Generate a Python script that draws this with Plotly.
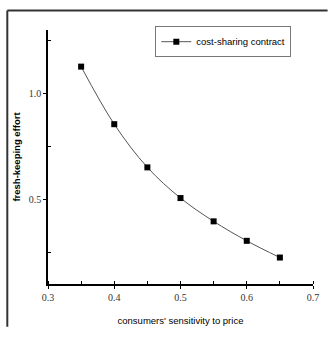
import plotly.graph_objects as go

sensitivity = [0.35, 0.40, 0.45, 0.50, 0.55, 0.60, 0.65]
effort = [1.127, 0.855, 0.651, 0.506, 0.396, 0.304, 0.225]
series_name = "cost-sharing contract"
x_ticks = [0.3, 0.4, 0.5, 0.6, 0.7]
y_ticks = [0.5, 1.0]

sans = "Liberation Sans, Arial, sans-serif"

fig = go.Figure()
fig.add_trace(go.Scatter(
    x=sensitivity, y=effort, mode="lines+markers", name=series_name,
    line=dict(color="#555555", width=1, shape="spline"),
    marker=dict(symbol="square", size=6, color="black"),
))

tickfont = dict(family="Liberation Serif, Times New Roman, serif", size=10, color="#333333")
fig.update_layout(
    width=331, height=337,
    margin=dict(l=48, r=16, t=30, b=45),
    paper_bgcolor="white", plot_bgcolor="white",
    showlegend=True,
    legend=dict(x=0.405, y=1.015, xanchor="left", yanchor="top",
                bordercolor="#777777", borderwidth=1, bgcolor="white",
                font=dict(family=sans, size=9.5, color="black"),
                itemwidth=30, tracegroupgap=0),
    xaxis=dict(range=[0.3, 0.7], tickvals=x_ticks, ticktext=[f"{v:.1f}" for v in x_ticks],
               showline=True, linecolor="black", linewidth=1.5, showgrid=False, zeroline=False,
               ticks="outside", ticklen=3, tickcolor="black", tickfont=tickfont,
               minor=dict(dtick=0.05, ticks="inside", ticklen=3, tickcolor="black", showgrid=False),
               title=dict(text="consumers' sensitivity to price", standoff=16,
                          font=dict(family=sans, size=9.5, color="black"))),
    yaxis=dict(range=[0.1, 1.3], tickvals=y_ticks, ticktext=[f"{v:.1f}" for v in y_ticks],
               showline=True, linecolor="black", linewidth=1.5, showgrid=False, zeroline=False,
               ticks="outside", ticklen=3, tickcolor="black", tickfont=tickfont,
               minor=dict(tickvals=[0.25, 0.75, 1.25], ticks="inside", ticklen=3, tickcolor="black", showgrid=False),
               title=dict(text="<b>fresh-keeping effort</b>", standoff=6,
                          font=dict(family=sans, size=9.5, color="black"))),
    shapes=[
        dict(type="line", xref="paper", yref="paper", x0=-0.1536, x1=-0.1536, y0=1.0763, y1=-0.168,
             line=dict(color="#333333", width=2)),
        dict(type="line", xref="paper", yref="paper", x0=-0.1536, x1=1.055, y0=1.0763, y1=1.0763,
             line=dict(color="#333333", width=2)),
    ],
)

fig.write_html("out.html")
